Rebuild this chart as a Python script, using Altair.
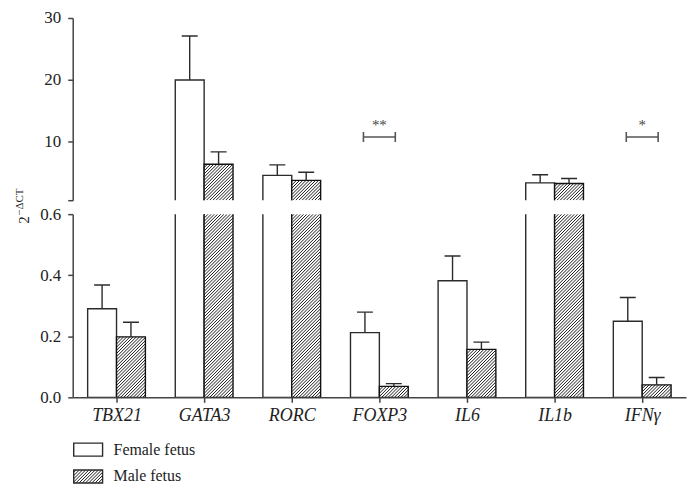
import math
import json
import altair as alt
import pandas as pd

# ---------------- data ----------------
genes = ["TBX21", "GATA3", "RORC", "FOXP3", "IL6", "IL1b", "IFNγ"]
series = ["Female fetus", "Male fetus"]
female_mean = [0.290, 20.0, 4.6, 0.212, 0.382, 3.4, 0.249]
female_err_top = [0.368, 27.1, 6.3, 0.279, 0.463, 4.7, 0.327]
male_mean = [0.198, 6.4, 3.8, 0.036, 0.157, 3.3, 0.041]
male_err_top = [0.246, 8.4, 5.1, 0.045, 0.181, 4.1, 0.065]
sig_genes = ["FOXP3", "IFNγ"]
sig_marks = ["**", "*"]
sig_level = [10.8, 10.8]
upper_ticks = [0.6, 10, 20, 30]
lower_ticks = [0.0, 0.2, 0.4, 0.6]
y_title_base = "2"
y_title_sup = "−ΔCT"

# ---------------- layout / style constants ----------------
FONT = "Liberation Serif, Times New Roman, DejaVu Serif, serif"
W = 616
H_UP = 183
H_LO = 184
BREAK = 0.6
TOP = 30
NCAT = len(genes)
PX = W / NCAT            # pixels per category
BAR_PX = 29              # bar width in pixels
BW = BAR_PX / PX         # bar width in category units
CAP = 8 / PX             # half width of error caps
BR = 16 / PX             # half width of significance bracket
HATCH_P = 3.2
INK = "#2b2b2b"

rows = []
for i, g in enumerate(genes):
    c = i + 0.5
    rows.append(dict(gene=g, sex=series[0], value=female_mean[i], err=female_err_top[i],
                     x0=c - BW, x1=c, xc=c - BW / 2))
    rows.append(dict(gene=g, sex=series[1], value=male_mean[i], err=male_err_top[i],
                     x0=c, x1=c + BW, xc=c + BW / 2))
bars = pd.DataFrame(rows)
bars["base"] = 0.0


def hatch_segments(X0, X1, Y0, Y1, p=HATCH_P):
    segs = []
    k = math.floor((Y0 - X1) / p)
    while k * p <= Y1 - X0:
        c = k * p
        xa = max(X0, Y0 - c)
        xb = min(X1, Y1 - c)
        if xb - xa > 0.05:
            segs.append((xa, xa + c, xb, xb + c))
        k += 1
    return segs


def hatch_df(lo, hi, height):
    k = height / (hi - lo)
    out = []
    for i, v in enumerate(male_mean):
        if v <= lo:
            continue
        X0 = (i + 0.5) * PX
        X1 = X0 + BAR_PX
        Y1 = (min(v, hi) - lo) * k
        for xa, ya, xb, yb in hatch_segments(X0, X1, 0, Y1):
            out.append(dict(xa=xa / PX, xb=xb / PX, ya=lo + ya / k, yb=lo + yb / k))
    return pd.DataFrame(out)


label_expr = json.dumps(genes, ensure_ascii=False) + "[floor(datum.value)]"


def panel(lo, hi, height, show_x, ticks, yfmt, ylabel_expr):
    xs = alt.Scale(domain=[0, NCAT], nice=False, zero=False)
    ys = alt.Scale(domain=[lo, hi], nice=False, zero=False)
    if show_x:
        xaxis = alt.Axis(values=[i + 0.5 for i in range(NCAT)], labelExpr=label_expr,
                         title=None, labelFontStyle="italic", labelFontSize=18,
                         labelPadding=4)
    else:
        xaxis = None
    yaxis = alt.Axis(values=ticks, format=yfmt, title=None, labelExpr=ylabel_expr)

    def X(f):
        return alt.X(f, type="quantitative", scale=xs, axis=xaxis)

    def Y(f):
        return alt.Y(f, type="quantitative", scale=ys, axis=yaxis)

    base = alt.Chart(bars)
    fem = base.transform_filter(alt.datum.sex == series[0]).transform_filter(
        alt.datum.value > lo
    ).mark_bar(
        fill="white", stroke=INK, strokeWidth=1.4, clip=True
    ).encode(x=X("x0"), x2="x1", y=Y("value"), y2="base")
    male_fill = base.transform_filter(alt.datum.sex == series[1]).transform_filter(
        alt.datum.value > lo
    ).mark_bar(
        fill="white", strokeWidth=0, clip=True
    ).encode(x=X("x0"), x2="x1", y=Y("value"), y2="base")
    hatch = alt.Chart(hatch_df(lo, hi, height)).mark_rule(
        stroke="#1a1a1a", strokeWidth=1.0, clip=True
    ).encode(x=X("xa"), x2="xb", y=Y("ya"), y2="yb")
    male_line = base.transform_filter(alt.datum.sex == series[1]).transform_filter(
        alt.datum.value > lo
    ).mark_bar(
        fillOpacity=0, stroke="#111111", strokeWidth=1.4, clip=True
    ).encode(x=X("x0"), x2="x1", y=Y("value"), y2="base")
    vis = base.transform_filter(f"datum.value < {hi} && datum.err > {lo}")
    err = vis.mark_rule(stroke=INK, strokeWidth=1.4, clip=True).encode(
        x=X("xc"), y=Y("value"), y2="err")
    caps = vis.transform_calculate(
        c0=f"datum.xc - {CAP}", c1=f"datum.xc + {CAP}"
    ).mark_rule(stroke=INK, strokeWidth=1.4, clip=True).encode(
        x=X("c0"), x2="c1", y=Y("err"))
    layers = [fem, male_fill, hatch, male_line, err, caps]
    return layers, X, Y


# ---- upper panel ----
up_layers, UX, UY = panel(BREAK, TOP, H_UP, False, upper_ticks, ".0f",
                          "datum.value < 1 ? '' : datum.label")
sig = pd.DataFrame({"gene": sig_genes, "mark": sig_marks, "level": sig_level})
sig["xc"] = [genes.index(g) + 0.5 for g in sig_genes]
sig_base = alt.Chart(sig).transform_calculate(
    xl=f"datum.xc - {BR}", xr=f"datum.xc + {BR}")
bracket = sig_base.mark_rule(stroke="#555555", strokeWidth=1.6).encode(
    x=UX("xl"), x2="xr", y=UY("level"))
ends = sig_base.transform_fold(["xl", "xr"], as_=["side", "pos"]).mark_rule(
    stroke="#555555", strokeWidth=1.6, yOffset=-5, y2Offset=5
).encode(x=UX("pos"), y=UY("level"), y2="level")
stars = alt.Chart(sig).mark_text(
    font=FONT, fontSize=15, color="#444444", baseline="alphabetic", dy=-7
).encode(x=UX("xc"), y=UY("level"), text="mark")
upper = alt.layer(*up_layers, bracket, ends, stars).properties(width=W, height=H_UP)

# ---- lower panel ----
lo_layers, LX, LY = panel(0, BREAK, H_LO, True, lower_ticks, ".1f", "datum.label")
t_base = alt.Chart(pd.DataFrame({"t": [y_title_base]})).mark_text(
    font=FONT, fontSize=15, color="#222222", angle=270, align="center", baseline="middle"
).encode(x=alt.value(-49), y=alt.value(6), text="t:N")
t_sup = alt.Chart(pd.DataFrame({"t": [y_title_sup]})).mark_text(
    font=FONT, fontSize=11, color="#222222", angle=270, align="center", baseline="middle"
).encode(x=alt.value(-53), y=alt.value(-12), text="t:N")
lower = alt.layer(*lo_layers, t_base, t_sup).properties(width=W, height=H_LO)

# ---- legend panel (pixel coordinates) ----
SW_X0, SW_X1, SW_H = 1, 30, 13
sw_top = [32, 59]
leg = pd.DataFrame({"label": series, "y0": sw_top})
leg["y1"] = leg["y0"] + SW_H
leg["x0"] = SW_X0
leg["x1"] = SW_X1
leg["ty"] = leg["y0"] + SW_H / 2
leg["tx"] = 41
lh = []
for xa, ya, xb, yb in hatch_segments(SW_X0, SW_X1, 0, SW_H):
    lh.append(dict(xa=xa, xb=xb, ya=sw_top[1] + SW_H - ya, yb=sw_top[1] + SW_H - yb))
leg_hatch = pd.DataFrame(lh)


def PXX(f):
    return alt.X(f, type="quantitative", scale=None, axis=None)


def PXY(f):
    return alt.Y(f, type="quantitative", scale=None, axis=None)


leg_fill = alt.Chart(leg).mark_rect(fill="white", strokeWidth=0).encode(
    x=PXX("x0"), x2="x1", y=PXY("y0"), y2="y1")
leg_h = alt.Chart(leg_hatch).mark_rule(stroke="#1a1a1a", strokeWidth=1.0).encode(
    x=PXX("xa"), x2="xb", y=PXY("ya"), y2="yb")
leg_box = alt.Chart(leg).mark_rect(fillOpacity=0, stroke=INK, strokeWidth=1.4).encode(
    x=PXX("x0"), x2="x1", y=PXY("y0"), y2="y1")
leg_text = alt.Chart(leg).mark_text(
    font=FONT, fontSize=16, color="#222222", align="left", baseline="middle"
).encode(x=PXX("tx"), y=PXY("ty"), text="label:N")
legend = alt.layer(leg_fill, leg_h, leg_box, leg_text).properties(width=200, height=75)

chart = alt.vconcat(upper, lower, legend, spacing=14, bounds="flush").properties(
    padding={"left": 6, "top": 0, "right": 4, "bottom": 0}
).configure_view(stroke=None).configure_axis(
    labelFont=FONT, labelFontSize=17, labelColor="#222222",
    domainColor="#444444", tickColor="#444444", domainWidth=1.5, tickWidth=1.5,
    tickSize=5, grid=False, labelPadding=7
)

chart.save("out.html", embed_options={"renderer": "svg", "actions": False})
